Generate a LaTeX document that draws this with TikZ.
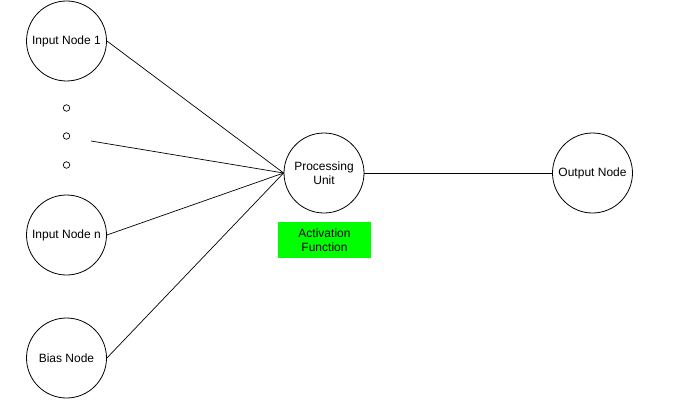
\documentclass[tikz,border=0pt]{standalone}
\usepackage{fontspec}
\setmainfont{Liberation Sans}
\begin{document}
\begin{tikzpicture}[x=1pt,y=-1pt,
  neuron/.style={circle,draw=black,line width=0.8pt,minimum size=80pt,inner sep=0pt,align=center,font=\fontsize{12}{14}\selectfont},
  dotnode/.style={circle,draw=black,line width=0.7pt,minimum size=6.5pt,inner sep=0pt},
  edge/.style={draw=black,line width=0.7pt},
  actbox/.style={rectangle,fill=green,draw=none,minimum width=93pt,minimum height=36pt,align=center,inner sep=0pt,font=\fontsize{12}{14}\selectfont}]
\useasboundingbox[fill=white] (0,0) rectangle (700,409);
\node[neuron] (in1) at (66.5,41) {Input Node 1};
\node[neuron] (inn) at (66.5,235) {Input Node n};
\node[neuron] (bias) at (66.5,358) {Bias Node};
\node[neuron] (pu) at (324,173) {Processing\\Unit};
\node[neuron] (out) at (592.5,173) {Output Node};
\node[dotnode] (d1) at (66.5,108) {};
\node[dotnode] (d2) at (66.5,136) {};
\node[dotnode] (d3) at (66.5,165) {};
\coordinate (dl) at (91,141);
\node[actbox] (act) at (324.5,240) {Activation\\Function};
\draw[edge] (in1.east) -- (pu.west);
\draw[edge] (dl) -- (pu.west);
\draw[edge] (inn.east) -- (pu.west);
\draw[edge] (bias.east) -- (pu.west);
\draw[edge] (pu.east) -- (out.west);
\end{tikzpicture}
\end{document}
